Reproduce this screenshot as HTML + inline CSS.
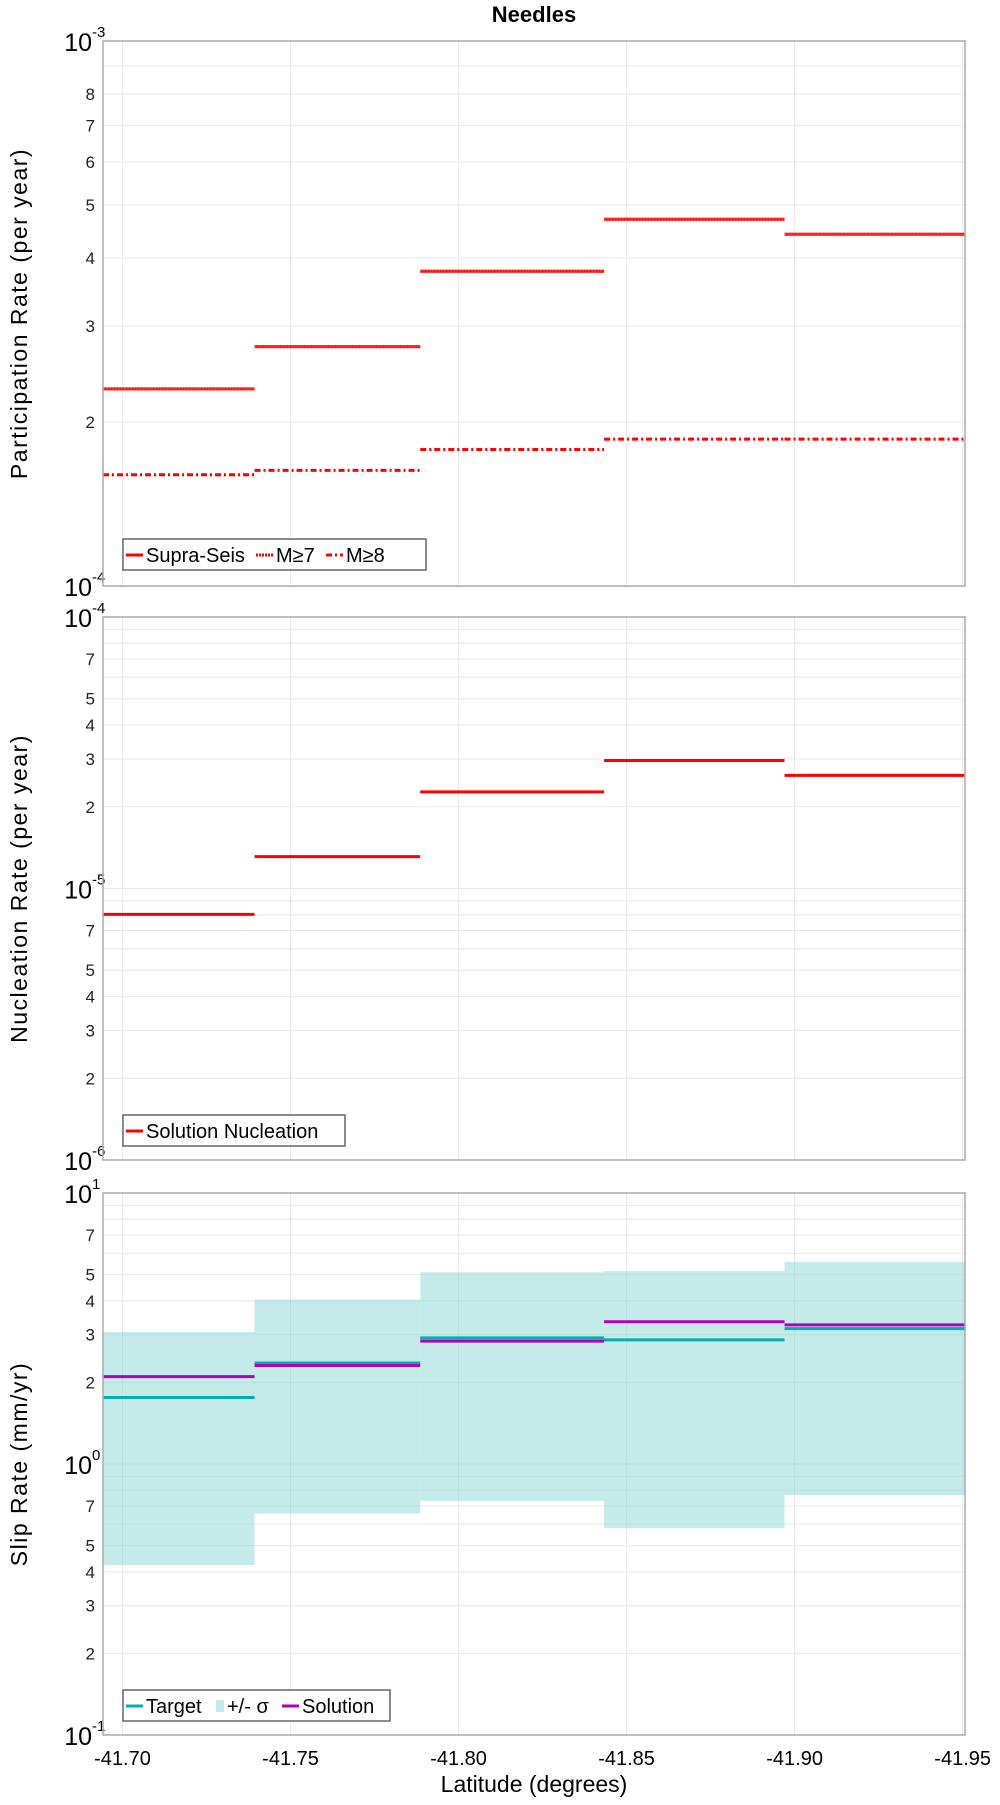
<!DOCTYPE html>
<html><head><meta charset="utf-8">
<style>
body{margin:0;background:#fff;}
svg text{font-family:"Liberation Sans",sans-serif;}
</style></head>
<body>
<svg id="chart" width="1000" height="1800" viewBox="0 0 1000 1800" xmlns="http://www.w3.org/2000/svg">
<text x="534" y="22" text-anchor="middle" font-size="22" font-weight="bold">Needles</text>
<g id="plots"></g>
</svg>
<script>
// Data
const binEdges = [41.6942, 41.7393, 41.7886, 41.8433, 41.8970, 41.9507];
const xTicks = [41.70, 41.75, 41.80, 41.85, 41.90, 41.95];
const xTickLabels = ["-41.70","-41.75","-41.80","-41.85","-41.90","-41.95"];
const supraSeis = [2.30e-4, 2.75e-4, 3.78e-4, 4.71e-4, 4.42e-4];
const m7 = [2.30e-4, 2.75e-4, 3.78e-4, 4.71e-4, 4.42e-4];
const m8 = [1.60e-4, 1.63e-4, 1.78e-4, 1.86e-4, 1.86e-4];
const nucleation = [8.03e-6, 1.31e-5, 2.27e-5, 2.96e-5, 2.61e-5];
const target = [1.76, 2.36, 2.92, 2.87, 3.16];
const solution = [2.10, 2.31, 2.84, 3.35, 3.26];
const sigmaUpper = [3.07, 4.04, 5.10, 5.15, 5.57];
const sigmaLower = [0.424, 0.657, 0.731, 0.58, 0.768];

const NS = "http://www.w3.org/2000/svg";
const root = document.getElementById('plots');
const L = 103, R = 965;
function xs(v){ return L + (v - binEdges[0]) / (binEdges[5] - binEdges[0]) * (R - L); }
function mk(tag, attrs, parent){
  const e = document.createElementNS(NS, tag);
  for (const k in attrs) e.setAttribute(k, attrs[k]);
  (parent || root).appendChild(e);
  return e;
}
function panel(top, bottom, minExp, maxExp, labelMinor, ytitle, pname){
  const g = mk('g', {});
  
  
  const ys = v => bottom - (Math.log10(v) - minExp) / (maxExp - minExp) * (bottom - top);
  for (let e = minExp; e < maxExp; e++) {
    for (let m = 1; m <= 9; m++) {
      const y = ys(m * Math.pow(10, e));
      const gl = mk('line', {x1: L, x2: R, y1: y, y2: y, stroke: '#e8e8e8', 'stroke-width': 1}, g);
      
      
      if (m > 1 && labelMinor.includes(m)) {
        const t = mk('text', {x: 95, y: y + 6, 'text-anchor': 'end', 'font-size': 17, fill: '#222'}, g);
        t.textContent = m;
        
        
      }
    }
  }
  xTicks.forEach(v => {
    const vl = mk('line', {x1: xs(v), x2: xs(v), y1: top, y2: bottom, stroke: '#e8e8e8', 'stroke-width': 1}, g);
    
    
  });
  for (let e = minExp; e <= maxExp; e++) {
    const t = mk('text', {x: 92, y: ys(Math.pow(10, e)) + 10, 'text-anchor': 'end', 'font-size': 25, fill: '#000'}, g);
    t.textContent = '10';
    
    
    const s = mk('text', {x: 92, y: ys(Math.pow(10, e)) - 4, 'text-anchor': 'start', 'font-size': 15, fill: '#000'}, g);
    s.textContent = e;
    
    
  }
  const tt = mk('text', {x: 0, y: 0, 'text-anchor': 'middle', 'font-size': 23, 'letter-spacing': 1.5, fill: '#000',
    transform: `translate(27,${(top + bottom) / 2}) rotate(-90)`}, g);
  tt.textContent = ytitle;
  
  
  return {g, ys, top, bottom};
}
function frame(p){
  const r = mk('rect', {x: L, y: p.top, width: R - L, height: p.bottom - p.top, fill: 'none', stroke: '#aaa', 'stroke-width': 1.5}, p.g);
  
  
}
function steps(p, vals, color, dash, name){
  vals.forEach((v, i) => {
    const l = mk('line', {x1: xs(binEdges[i]), x2: xs(binEdges[i + 1]), y1: p.ys(v), y2: p.ys(v), stroke: color, 'stroke-width': 3}, p.g);
    if (dash) l.setAttribute('stroke-dasharray', dash);
    
    
  });
}
function legend(p, x, y, w, items){
  const lg = mk('g', {}, p.g);
  
  
  const box = mk('rect', {x: x, y: y, width: w, height: 31, fill: '#fff', stroke: '#666', 'stroke-width': 1.5}, lg);
  
  
  let cx = x + 3;
  items.forEach(it => {
    if (it.fill) {
      const s = mk('rect', {x: cx + 2, y: y + 10, width: 8, height: 12, fill: it.fill}, lg);
      
      
      cx += 13;
    } else {
      const s = mk('line', {x1: cx, x2: cx + 17, y1: y + 16, y2: y + 16, stroke: it.color, 'stroke-width': 3}, lg);
      if (it.dash) s.setAttribute('stroke-dasharray', it.dash);
      
      
      cx += 20;
    }
    const t = mk('text', {x: cx, y: y + 23, 'font-size': 20, fill: '#000'}, lg);
    t.textContent = it.label;
    
    
    cx += it.w;
  });
}

const p1 = panel(41, 586, -4, -3, [2,3,4,5,6,7,8], 'Participation Rate (per year)', 'participation-panel');
steps(p1, supraSeis, '#ff0000', null, 'supra-seis-segment');
steps(p1, m7, '#ff3030', '2,1', 'm7-segment');
steps(p1, m8, '#ff0000', '6,3,2,3', 'm8-segment');
legend(p1, 123, 539, 303, [{color:'#ff0000', label:'Supra-Seis', w:110},{color:'#ff0000', dash:'2,1', label:'M≥7', w:50},{color:'#ff0000', dash:'6,3,2,3', label:'M≥8', w:60}]);
frame(p1);

const p2 = panel(617, 1160, -6, -4, [2,3,4,5,7], 'Nucleation Rate (per year)', 'nucleation-panel');
steps(p2, nucleation, '#ff0000', null, 'nucleation-segment');
legend(p2, 123, 1115, 222, [{color:'#ff0000', label:'Solution Nucleation', w:180}]);
frame(p2);

const p3 = panel(1193, 1735, -1, 1, [2,3,4,5,7], 'Slip Rate (mm/yr)', 'slip-rate-panel');
sigmaUpper.forEach((u, i) => {
  const r = mk('rect', {x: xs(binEdges[i]), y: p3.ys(u), width: xs(binEdges[i+1]) - xs(binEdges[i]), height: p3.ys(sigmaLower[i]) - p3.ys(u), fill: 'rgba(140,215,212,0.5)'}, p3.g);
  
  
});
steps(p3, target, '#00b0b0', null, 'target-segment');
steps(p3, solution, '#b000b8', null, 'solution-segment');
legend(p3, 123, 1690, 267, [{color:'#00b0b0', label:'Target', w:68},{fill:'#c3ebea', label:'+/- σ', w:55},{color:'#b000b8', label:'Solution', w:90}]);
frame(p3);

xTicks.forEach((v, i) => {
  const t = mk('text', {x: xs(v), y: 1765, 'text-anchor': 'middle', 'font-size': 20, fill: '#000'});
  t.textContent = xTickLabels[i];
  
  
});
const xt = mk('text', {x: 534, y: 1792, 'text-anchor': 'middle', 'font-size': 23, fill: '#000'});
xt.textContent = 'Latitude (degrees)';


</script>
</body></html>
